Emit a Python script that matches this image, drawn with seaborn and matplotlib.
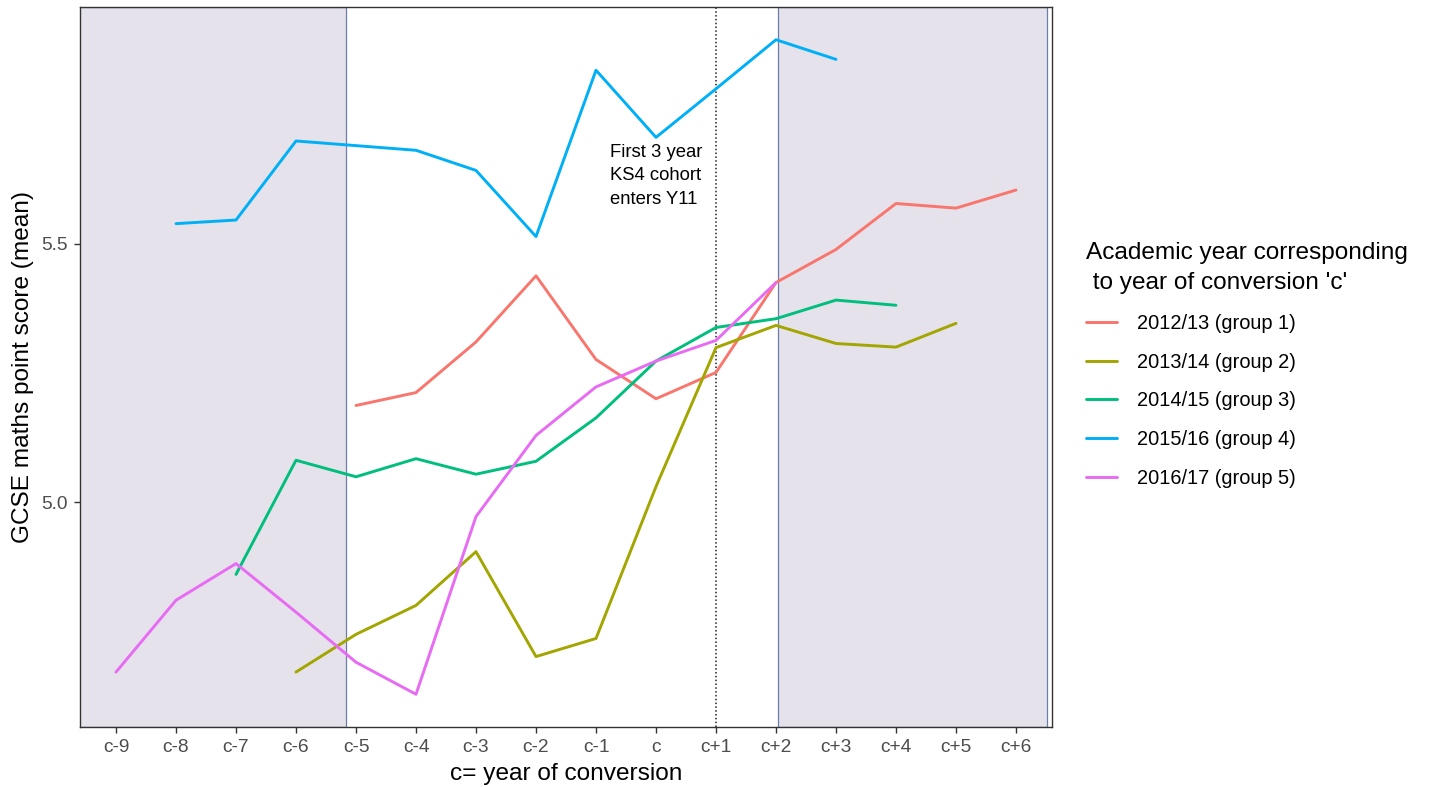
import numpy as np
import pandas as pd
import matplotlib
matplotlib.use("Agg")
import matplotlib.pyplot as plt
import seaborn as sns

# x categories: years relative to conversion year c
years = ["c-9", "c-8", "c-7", "c-6", "c-5", "c-4", "c-3", "c-2",
         "c-1", "c", "c+1", "c+2", "c+3", "c+4", "c+5", "c+6"]

groups = ["2012/13 (group 1)", "2013/14 (group 2)", "2014/15 (group 3)",
          "2015/16 (group 4)", "2016/17 (group 5)"]

nan = np.nan
# mean GCSE maths point score by cohort
g1 = [nan, nan, nan, nan, 5.187, 5.212, 5.310, 5.438, 5.276, 5.200,
      5.251, 5.425, 5.489, 5.578, 5.569, 5.604]
g2 = [nan, nan, nan, 4.671, 4.744, 4.800, 4.904, 4.701, 4.736, 5.030,
      5.299, 5.342, 5.307, 5.300, 5.346, nan]
g3 = [nan, nan, 4.860, 5.081, 5.049, 5.084, 5.054, 5.079, 5.163, 5.273,
      5.338, 5.355, 5.391, 5.381, nan, nan]
g4 = [nan, 5.539, 5.546, 5.699, 5.690, 5.681, 5.642, 5.514, 5.836, 5.706,
      5.800, 5.895, 5.857, nan, nan, nan]
g5 = [4.671, 4.810, 4.881, 4.787, 4.690, 4.628, 4.972, 5.129, 5.223, 5.273,
      5.313, 5.425, nan, nan, nan, nan]

palette = ["#F8766D", "#A3A500", "#00BF7D", "#00B0F6", "#E76BF3"]

rows = []
for name, vals in zip(groups, [g1, g2, g3, g4, g5]):
    for i, v in enumerate(vals):
        if not np.isnan(v):
            rows.append({"pos": i, "year": years[i], "group": name, "score": v})
df = pd.DataFrame(rows)

sns.set_style("white")
plt.rcParams["font.family"] = ["Liberation Sans", "DejaVu Sans"]

fig = plt.figure(figsize=(14.35, 7.87), dpi=100)
ax = fig.add_axes([80 / 1435, 1 - 727 / 787, (1052 - 80) / 1435, (727 - 7) / 787])

# shaded periods outside the comparison window
shade_fc = "#e5e2ec"
shade_ec = "#6a7fa8"
ax.axvspan(-0.62, 3.84, facecolor=shade_fc, edgecolor=shade_ec, lw=0.9, zorder=0)
ax.axvspan(11.03, 15.52, facecolor=shade_fc, edgecolor=shade_ec, lw=0.9, zorder=0)

sns.lineplot(data=df, x="pos", y="score", hue="group", hue_order=groups,
             palette=palette, lw=2.1, ax=ax, sort=True, estimator=None)

# first three-year KS4 cohort marker
ax.axvline(years.index("c+1"), color="#222222", lw=1.1, ls=(0, (1, 1.5)), zorder=1)
ax.text(8.24, 5.694, "First 3 year\nKS4 cohort\nenters Y11", ha="left", va="top",
        fontsize=13.3, linespacing=1.5, color="black")

lo, hi = df["score"].min(), df["score"].max()
rng = hi - lo
ax.set_ylim(lo - 0.05 * rng, hi + 0.05 * rng)
ax.set_xlim(-0.6, len(years) - 1 + 0.6)
ax.set_xticks(range(len(years)))
ax.set_xticklabels(years)
ax.set_yticks([5.0, 5.5])
ax.set_yticklabels(["5.0", "5.5"])

ax.tick_params(axis="both", which="both", direction="out", length=4, width=1,
               color="#333333", labelcolor="#4d4d4d", labelsize=13.8, pad=5,
               bottom=True, left=True)
for s in ax.spines.values():
    s.set_color("#333333")
    s.set_linewidth(1.0)

ax.set_xlabel("c= year of conversion", fontsize=17.6, color="black", labelpad=5)
ax.set_ylabel("GCSE maths point score (mean)", fontsize=17.6, color="black", labelpad=5)

handles, labels = ax.get_legend_handles_labels()
ax.legend_.remove()
leg = fig.legend(handles, labels, title="Academic year corresponding\n to year of conversion 'c'",
                 loc="upper left", bbox_to_anchor=(1080 / 1435, 1 - 236 / 787),
                 frameon=False, fontsize=14.4, title_fontsize=17.6,
                 handlelength=1.55, handletextpad=1.0, labelspacing=0.98,
                 borderaxespad=0, borderpad=0.3)
leg._legend_box.align = "left"
leg.get_title().set_linespacing(1.5)
leg.get_title().set_color("black")
for t in leg.get_texts():
    t.set_color("black")
for h in leg.get_lines():
    h.set_linewidth(2.1)

fig.savefig("out.png", dpi=100)
